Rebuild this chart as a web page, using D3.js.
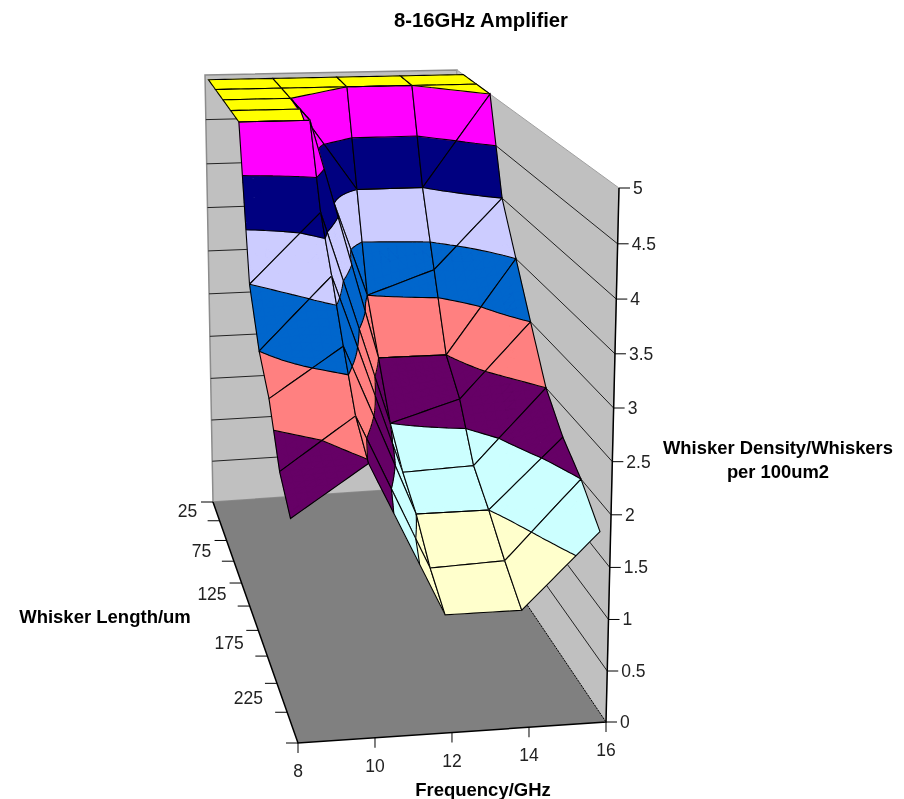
<!DOCTYPE html>
<html><head><meta charset="utf-8">
<script src="https://cdnjs.cloudflare.com/ajax/libs/d3/7.8.5/d3.min.js"></script>
<style>html,body{margin:0;padding:0;background:#fff}svg{display:block;font-family:"Liberation Sans",Arial,sans-serif;filter:blur(0.35px)}</style>
</head><body><div id="chart"></div>
<script>
// ---------- data ----------
const frequencies = [8, 10, 12, 14, 16];
const lengths = [25, 50, 75, 100, 125, 150, 175, 200, 225, 250];
const lengthLabels = [25, 75, 125, 175, 225];
const densityTicks = [0, 0.5, 1, 1.5, 2, 2.5, 3, 3.5, 4, 4.5, 5];
// whisker density per frequency, one value per whisker length (values above 5 are clipped by the axis)
const density8  = [5.4, 5.4, 5.4, 5.4, 5, 3.5, 3, 2.72, 2.22, 2];
const density10 = [5.4, 6, 5, 5, 5, 4.2, 3.72, 3.2, 2.72, 2.48];
const density12 = [5.4, 5, 4, 3, 2.5, 2, 1.7, 1.5, 1.2, 1];
const density14 = [5.4, 5, 4, 3.25, 2.5, 2.22, 1.73, 1.5, 1.23, 1];
const density16 = [5.4, 6, 5, 4, 3.5, 3, 2.5, 2.2, 2, 1.72];
const densitySeries = [density8, density10, density12, density14, density16];
const bandLevels = [0, 0.5, 1, 1.5, 2, 2.5, 3, 3.5, 4, 4.5, 5, 99];
const bandColors = ["#9999FF","#993366","#FFFFCC","#CCFFFF","#660066","#FF8080","#0066CC","#CCCCFF","#000080","#FF00FF","#FFFF00"];

// ---------- perspective frame ----------
const W = 904, H = 799;
const floorCorners = [[213,502],[447,486],[606,722],[298,743]]; // back-left, back-right, front-right, front-left
const topCorners   = [[205,75],[457,70],[619,188],[293,197]];
const bow = 0.05;

function homography(c){
  const [p00,p10,p11,p01]=c;
  const sx=p00[0]-p10[0]+p11[0]-p01[0], sy=p00[1]-p10[1]+p11[1]-p01[1];
  const dx1=p10[0]-p11[0], dy1=p10[1]-p11[1], dx2=p01[0]-p11[0], dy2=p01[1]-p11[1];
  const det=dx1*dy2-dx2*dy1;
  const g=(sx*dy2-dx2*sy)/det, h=(dx1*sy-sx*dy1)/det;
  const a=p10[0]*(1+g)-p00[0], b=p01[0]*(1+h)-p00[0], d=p10[1]*(1+g)-p00[1], e=p01[1]*(1+h)-p00[1];
  return (u,v)=>{const q=1+g*u+h*v;return [(p00[0]+a*u+b*v)/q,(p00[1]+d*u+e*v)/q];};
}
const floorMap=homography(floorCorners), topMap=homography(topCorners);
const uScale=d3.scaleLinear().domain([8,16]).range([0,1]);
const vBand=d3.scaleBand().domain(lengths).range([0,1]);
const wScale=d3.scaleLinear().domain([0,5]).range([0,1]).clamp(true);
const vCenter=l=>vBand(l)+vBand.bandwidth()/2;
function project(u,v,z){
  const w=wScale(z), s=w*(1-bow*(1-w));
  const a=floorMap(u,v), b=topMap(u,v);
  return [a[0]+(b[0]-a[0])*s, a[1]+(b[1]-a[1])*s];
}
const f2=n=>n.toFixed(2);
const poly=pts=>"M"+pts.map(p=>f2(p[0])+","+f2(p[1])).join("L");

const svg=d3.select("#chart").append("svg").attr("width",W).attr("height",H);

// ---------- walls and floor ----------
const wallFill="#C0C0C0", floorFill="#808080";
const wall=(a,b,c,d)=>poly([a,b,c,d])+"Z";
svg.append("path").attr("d",wall(project(0,0,0),project(1,0,0),project(1,0,5),project(0,0,5))).attr("fill",wallFill).attr("stroke","#8c8c8c").attr("stroke-width",1.5);
svg.append("path").attr("d",wall(project(1,0,0),project(1,1,0),project(1,1,5),project(1,0,5))).attr("fill",wallFill).attr("stroke","#a0a0a0").attr("stroke-width",1);
densityTicks.slice(1,-1).forEach(t=>{
  svg.append("path").attr("d",poly([project(0,0,t),project(1,0,t)])).attr("stroke","#222").attr("stroke-width",1).attr("fill","none");
  svg.append("path").attr("d",poly([project(1,0,t),project(1,1,t)])).attr("stroke","#222").attr("stroke-width",1).attr("fill","none");
});
svg.append("path").attr("d",wall(project(0,0,0),project(1,0,0),project(1,1,0),project(0,1,0))).attr("fill",floorFill);
svg.append("path").attr("d",poly([project(1,0,0),project(1,1,0)])).attr("stroke","#000").attr("stroke-width",1).attr("stroke-dasharray","2,1").attr("fill","none");
svg.append("path").attr("d",poly([project(0,0,0),project(0,1,0),project(1,1,0),project(1,1,5)])).attr("stroke","#000").attr("stroke-width",1.5).attr("fill","none");

// ---------- surface ----------
const EPS=1e-6;
function clipLevel(pts,level,keepAbove){
  const out=[];
  for(let i=0;i<pts.length;i++){
    const a=pts[i],b=pts[(i+1)%pts.length];
    const ai=keepAbove?a[2]>=level:a[2]<=level, bi=keepAbove?b[2]>=level:b[2]<=level;
    if(ai) out.push(a);
    if(ai!==bi){const t=(level-a[2])/(b[2]-a[2]);out.push([a[0]+(b[0]-a[0])*t,a[1]+(b[1]-a[1])*t,level]);}
  }
  return out;
}
const N=8;
const surface=svg.append("g");
for(let r=0;r<lengths.length-1;r++){
  for(let c=0;c<frequencies.length-1;c++){
    const u0=uScale(frequencies[c]),u1=uScale(frequencies[c+1]);
    const v0=vCenter(lengths[r]),v1=vCenter(lengths[r+1]);
    const z00=densitySeries[c][r],z10=densitySeries[c+1][r],z01=densitySeries[c][r+1],z11=densitySeries[c+1][r+1];
    const zAt=(a,b)=>z00*(1-a)*(1-b)+z10*a*(1-b)+z01*(1-a)*b+z11*a*b;
    const pt=(i,j)=>{const a=i/N,b=j/N;return [u0+(u1-u0)*a,v0+(v1-v0)*b,zAt(a,b)];};
    const tris=[];
    for(let i=0;i<N;i++)for(let j=0;j<N;j++){
      tris.push([pt(i,j),pt(i+1,j),pt(i+1,j+1)]);
      tris.push([pt(i,j),pt(i+1,j+1),pt(i,j+1)]);
    }
    const g=surface.append("g");
    bandColors.forEach((col,k)=>{
      const lo=bandLevels[k]-EPS,hi=bandLevels[k+1]-EPS;
      let d="";
      tris.forEach(t=>{
        let p=clipLevel(t,lo,true);
        if(p.length>2)p=clipLevel(p,hi,false);
        if(p.length>2)d+=poly(p.map(q=>project(q[0],q[1],q[2])))+"Z";
      });
      if(d)g.append("path").attr("d",d).attr("fill",col).attr("stroke",col).attr("stroke-width",0.4);
    });
    let contour="";
    bandLevels.slice(1,-1).forEach(L0=>{
      const L=L0-EPS;
      tris.forEach(t=>{
        const seg=[];
        for(let i=0;i<3;i++){
          const a=t[i],b=t[(i+1)%3];
          if((a[2]-L)*(b[2]-L)<0){const s=(L-a[2])/(b[2]-a[2]);seg.push(project(a[0]+(b[0]-a[0])*s,a[1]+(b[1]-a[1])*s,L));}
        }
        if(seg.length===2)contour+=poly(seg);
      });
    });
    if(contour)g.append("path").attr("d",contour).attr("fill","none").attr("stroke","#000").attr("stroke-width",1.1);
    const edge=[];
    for(let i=0;i<=N;i++)edge.push(pt(i,0));
    for(let j=1;j<=N;j++)edge.push(pt(N,j));
    for(let i=N-1;i>=0;i--)edge.push(pt(i,N));
    for(let j=N-1;j>0;j--)edge.push(pt(0,j));
    g.append("path").attr("d",poly(edge.map(q=>project(q[0],q[1],q[2])))+"Z").attr("fill","none").attr("stroke","#000").attr("stroke-width",1.1);
  }
}

// ---------- axes ----------
const tickStroke="#000", fs=17.5;
const txt=(x,y,s,anchor,size,bold)=>svg.append("text").attr("x",x).attr("y",y).attr("text-anchor",anchor||"middle").attr("dominant-baseline","central").attr("font-size",size||fs).attr("font-weight",bold?"bold":"normal").attr("fill",bold?"#000":"#222").text(s);
const tickLine=(a,dx,dy)=>svg.append("path").attr("d",poly([a,[a[0]+dx,a[1]+dy]])).attr("stroke",tickStroke).attr("stroke-width",1).attr("fill","none");
densityTicks.forEach(t=>{
  const p=project(1,1,t);
  tickLine(p,11,0);
  txt(p[0]+14,p[1],String(t),"start");
});
frequencies.forEach(f=>{
  const p=project(uScale(f),1,0);
  tickLine(p,0,10);
  txt(p[0],p[1]+28,String(f));
});
d3.range(0,11).forEach(i=>{
  const p=project(0,i/10,0);
  tickLine(p,-12,0);
});
lengthLabels.forEach(l=>{
  const p=project(0,vCenter(l),0);
  txt(p[0]-19,p[1],String(l),"end");
});
txt(481,20,"8-16GHz Amplifier","middle",20.3,true);
txt(105,616,"Whisker Length/um","middle",18.5,true);
txt(483,789,"Frequency/GHz","middle",18.5,true);
txt(778,447,"Whisker Density/Whiskers","middle",18.4,true);
txt(778,471,"per 100um2","middle",18.4,true);
</script></body></html>
